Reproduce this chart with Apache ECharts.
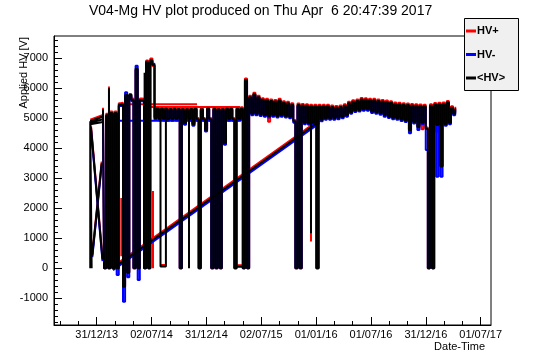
<!DOCTYPE html>
<html><head><meta charset="utf-8">
<script src="https://cdn.jsdelivr.net/npm/echarts@6/dist/echarts.min.js"></script>
<style>html,body{margin:0;padding:0;background:#fff}#c{width:546px;height:362px}</style>
</head><body><div id="c"></div><script>
// x unit: days since 2014-01-01 00:00 UTC (ROOT labels shown with its own time offset)
const xTickDays = [0, 182.625, 365.25, 547.875, 730.5, 913.125, 1095.75, 1278.375];
const xTickLabels = ['31/12/13', '02/07/14', '31/12/14', '02/07/15', '01/01/16', '01/07/16', '31/12/16', '01/07/17'];
const yTickValues = [-1000, 0, 1000, 2000, 3000, 4000, 5000, 6000, 7000];
const xRange = [-142.15, 1312.7];
const yRange = [-1890, 7743];

// dense readings on a regular sampling grid (day = gridStart + i*gridStep), alternating high/low envelope
const gridStart = 21, gridStep = 7;
const avgGrid = [5300,0,5100,0,5180,0,5180,0,5450,5467,-613,5777,-150,5800,5610,0,6650,0,5610,5600,
0,6887,0,6943,6777,5000,5330,4980,5320,4980,5320,4970,5310,4970,5320,4980,5310,0,5300,4833,
5300,4970,5310,4800,5320,4970,0,5300,4970,4610,5330,4970,0,5320,0,5300,0,5300,4167,5320,
4970,5320,4970,0,5320,4970,5320,0,6277,0,5700,5150,5800,5150,5700,5130,5620,5100,5600,5080,
5580,5100,5560,5080,5600,5100,5520,5080,5500,5050,5450,4900,0,5440,0,5430,4850,5420,4833,5400,
4850,5400,0,5400,4950,5400,5000,5400,5000,5380,5000,5360,5020,5380,5050,5420,5100,5500,5200,5550,
5260,5580,5280,5630,5300,5620,5300,5600,5230,5600,5200,5580,5170,5560,5100,5540,5060,5520,5020,5480,
5000,5470,4960,5450,4930,5440,4600,5430,4880,5420,4700,5410,4850,5400,4650,0,5420,0,5460,4780,
5470,3390,5480,4800,5533,4850,5350,5150,5300];
const plusGrid = [5350,0,5150,0,5230,0,5230,0,5500,5517,-570,5750,-110,5760,5660,0,6600,0,5660,5650,
0,6930,0,6990,6740,5040,5380,5020,5370,5020,5370,5010,5360,5010,5370,5020,5360,0,5350,4873,
5350,5010,5360,4840,5370,5010,0,5350,5010,4650,5380,5010,0,5370,0,5350,0,5350,4207,5370,
5010,5370,5010,0,5370,5010,5370,0,6330,0,5750,5190,5850,5190,5750,5170,5670,5140,5650,4887,
5630,5140,5610,5120,5650,5140,5570,5120,5550,5090,5500,4940,0,5490,0,5480,4890,5470,4873,5450,
4890,5450,0,5450,4990,5450,5040,5450,5040,5430,5040,5410,5060,5430,5090,5470,5140,5550,5240,5600,
5300,5630,5320,5680,5340,5670,5340,5650,5270,5650,5240,5630,5210,5610,5140,5590,5100,5570,5060,5530,
5040,5520,5000,5500,4970,5490,4640,5480,4920,5470,4740,5460,4633,5450,4690,0,5470,0,5510,4553,
5520,3430,5530,4840,5580,4890,5400,5190,5350];
const minusGrid = [5260,0,5060,0,5140,0,5140,-220,5410,5427,-1113,5867,-300,5760,5570,0,6753,-390,5570,5560,
0,6847,0,6900,6820,4950,5290,4930,5280,4930,5280,4920,5270,4920,5280,4930,5270,0,5260,4783,
5260,4920,5270,4750,5280,4920,0,5260,4920,4560,5290,4920,0,5280,0,5260,0,5260,4117,5280,
4920,5280,4920,0,5280,4920,5280,0,6237,0,5660,5100,5760,5100,5660,5080,5580,5050,5560,5030,
5540,5050,5520,5030,5560,5050,5480,5030,5460,5000,5410,4850,0,5400,0,5390,4800,5380,4783,5360,
4800,5360,0,5360,4900,5360,4950,5360,4950,5340,4950,5320,4970,5340,5000,5380,5050,5460,5150,5510,
5210,5540,5230,5590,5250,5580,5250,5560,5180,5560,5150,5540,5120,5520,5050,5500,5010,5480,4970,5440,
4950,5430,4910,5410,4880,5400,4500,5390,4830,5380,4610,5370,4800,5360,3943,0,5380,0,5420,3053,
5430,3053,5440,4750,5490,4800,5310,5100,5260];

// isolated line pieces (out-of-order readings, spikes, notches): [day, volts]
const avgPieces = [
  [[-21.5, 0], [-21.5, 4900], [-16.8, 4930], [-16.8, 0]],
  [[-21.5, 4900], [21, 5060]],
  [[-21.5, 4850], [21, 4970]],
  [[-21.5, 4800], [21, 4880]],
  [[-14.6, 430], [16.6, 3500]],
  [[-19, 4700], [19.3, 300]],
  [[40.9, 5100], [40.9, 6000]],
  [[159.5, 5000], [159.5, 6520]],
  [[54.3, 0], [741.7, 4900]],
  [[212.4, 4970], [212.4, 60], [230.4, 60], [230.4, 4970]],
  [[307.3, 4970], [307.3, 0]],
  [[465, 55], [486, 55]],
  [[713.4, 4850], [713.4, 1170]]
];
const plusPieces = [
  [[-21.5, 4950], [21, 5110]],
  [[-14.6, 490], [16.6, 3560]],
  [[-19, 4760], [19.3, 360]],
  [[40.9, 5100], [40.9, 6060]],
  [[54.3, 60], [741.7, 4960]],
  [[74.2, 5467], [333.9, 5467]],
  [[177.4, 5375], [477.1, 5375]],
  [[213.5, 110], [229.4, 110]],
  [[466, 105], [486, 105]],
  [[713.4, 4850], [713.4, 890]],
  [[187.4, 2577], [187.4, 0]],
  [[81.9, 2340], [81.9, 400]]
];
const minusPieces = [
  [[-14.6, 370], [16.6, 3440]],
  [[-19, 4640], [19.3, 240]],
  [[54.3, -60], [741.7, 4840]],
  [[70, 4915], [475, 4915]]
];

const FONT = "'Liberation Sans', Arial, Helvetica, sans-serif";
const gridDays = avgGrid.map((_, i) => gridStart + i * gridStep);
const gridData = vals => vals.map((v, i) => [gridDays[i], v]);
const pieceData = pieces => {
  const out = [];
  pieces.forEach((p, k) => { if (k) out.push([null, null]); p.forEach(pt => out.push(pt)); });
  return out;
};
const xMinor = [];
for (let k = -1; k < xTickDays.length; k++) {
  for (let j = 1; j <= 2; j++) {
    const v = k * 182.625 + j * 60.875;
    if (v > xRange[0] && v < xRange[1]) xMinor.push(v);
  }
}
const yMinor = [];
for (let v = -1800; v <= 7600; v += 200) yMinor.push(v);

const mk = (name, color, data, step) => ({
  type: 'line', name, data, step: step ? 'middle' : false,
  showSymbol: false, symbol: 'none', connectNulls: false, animation: false,
  lineStyle: { color, width: 2 }, itemStyle: { color }, emphasis: { disabled: true }
});
const RED = '#ff0000', BLUE = '#0000ff', BLACK = '#000000';

const chart = echarts.init(document.getElementById('c'), null, { renderer: 'canvas' });
chart.setOption({
  backgroundColor: '#ffffff',
  animation: false,
  title: {
    text: 'V04-Mg HV plot produced on Thu Apr  6 20:47:39 2017',
    left: 89, top: 4, padding: 0,
    textStyle: { fontFamily: FONT, fontSize: 14, fontWeight: 'normal', color: '#000' }
  },
  grid: { left: 54, top: 36, width: 437, height: 289, show: true, borderColor: '#000', borderWidth: 1, backgroundColor: 'transparent' },
  xAxis: [{
    type: 'value', min: xRange[0], max: xRange[1], position: 'bottom',
    axisLine: { show: true, onZero: false, lineStyle: { color: '#000', width: 1 } },
    axisTick: { show: true, inside: true, length: 8, customValues: xTickDays, lineStyle: { color: '#000' } },
    axisLabel: {
      show: true, customValues: xTickDays, margin: 4, fontFamily: FONT, fontSize: 11, color: '#000',
      formatter: v => { let b = 0; xTickDays.forEach((d, i) => { if (Math.abs(d - v) < Math.abs(xTickDays[b] - v)) b = i; }); return xTickLabels[b]; }
    },
    splitLine: { show: false }
  }, {
    type: 'value', min: xRange[0], max: xRange[1], position: 'bottom', offset: 0,
    axisLine: { show: false, onZero: false },
    axisTick: { show: true, inside: true, length: 4, customValues: xMinor, lineStyle: { color: '#000' } },
    axisLabel: { show: false }, splitLine: { show: false }
  }],
  yAxis: [{
    type: 'value', min: yRange[0], max: yRange[1], position: 'left',
    axisLine: { show: true, onZero: false, lineStyle: { color: '#000', width: 1 } },
    axisTick: { show: true, inside: true, length: 8, customValues: yTickValues, lineStyle: { color: '#000' } },
    axisLabel: { show: true, customValues: yTickValues, margin: 6, fontFamily: FONT, fontSize: 11, color: '#000',
      formatter: v => String(Math.round(v)) },
    splitLine: { show: false }
  }, {
    type: 'value', min: yRange[0], max: yRange[1], position: 'left', offset: 0,
    axisLine: { show: false, onZero: false },
    axisTick: { show: true, inside: true, length: 4, customValues: yMinor, lineStyle: { color: '#000' } },
    axisLabel: { show: false }, splitLine: { show: false }
  }],
  series: [
    mk('HV+', RED, gridData(plusGrid), true),
    mk('HV+', RED, pieceData(plusPieces), false),
    mk('HV-', BLUE, gridData(minusGrid), true),
    mk('HV-', BLUE, pieceData(minusPieces), false),
    mk('<HV>', BLACK, gridData(avgGrid), true),
    mk('<HV>', BLACK, pieceData(avgPieces), false)
  ],
  graphic: [
    { type: 'text', x: 24, y: 37, rotation: Math.PI / 2, z: 100,
      style: { text: 'Applied HV [V]', font: '11px ' + FONT, fill: '#000', align: 'right', verticalAlign: 'middle' } },
    { type: 'text', x: 485, y: 347, z: 100,
      style: { text: 'Date-Time', font: '11px ' + FONT, fill: '#000', align: 'right', verticalAlign: 'middle' } },
    { type: 'group', z: 100, children: [
      { type: 'rect', shape: { x: 464.5, y: 18.5, width: 54, height: 72 }, style: { fill: '#f0f0f0', stroke: '#000', lineWidth: 1 } },
      { type: 'line', shape: { x1: 466, y1: 31, x2: 476, y2: 31 }, style: { stroke: RED, lineWidth: 3 } },
      { type: 'text', x: 477, y: 31, style: { text: 'HV+', font: 'bold 11px ' + FONT, fill: '#000', verticalAlign: 'middle' } },
      { type: 'line', shape: { x1: 466, y1: 54.5, x2: 476, y2: 54.5 }, style: { stroke: BLUE, lineWidth: 3 } },
      { type: 'text', x: 477, y: 54.5, style: { text: 'HV-', font: 'bold 11px ' + FONT, fill: '#000', verticalAlign: 'middle' } },
      { type: 'line', shape: { x1: 466, y1: 78, x2: 476, y2: 78 }, style: { stroke: BLACK, lineWidth: 3 } },
      { type: 'text', x: 477, y: 78, style: { text: '<HV>', font: 'bold 11px ' + FONT, fill: '#000', verticalAlign: 'middle' } }
    ]}
  ]
});
</script></body></html>
